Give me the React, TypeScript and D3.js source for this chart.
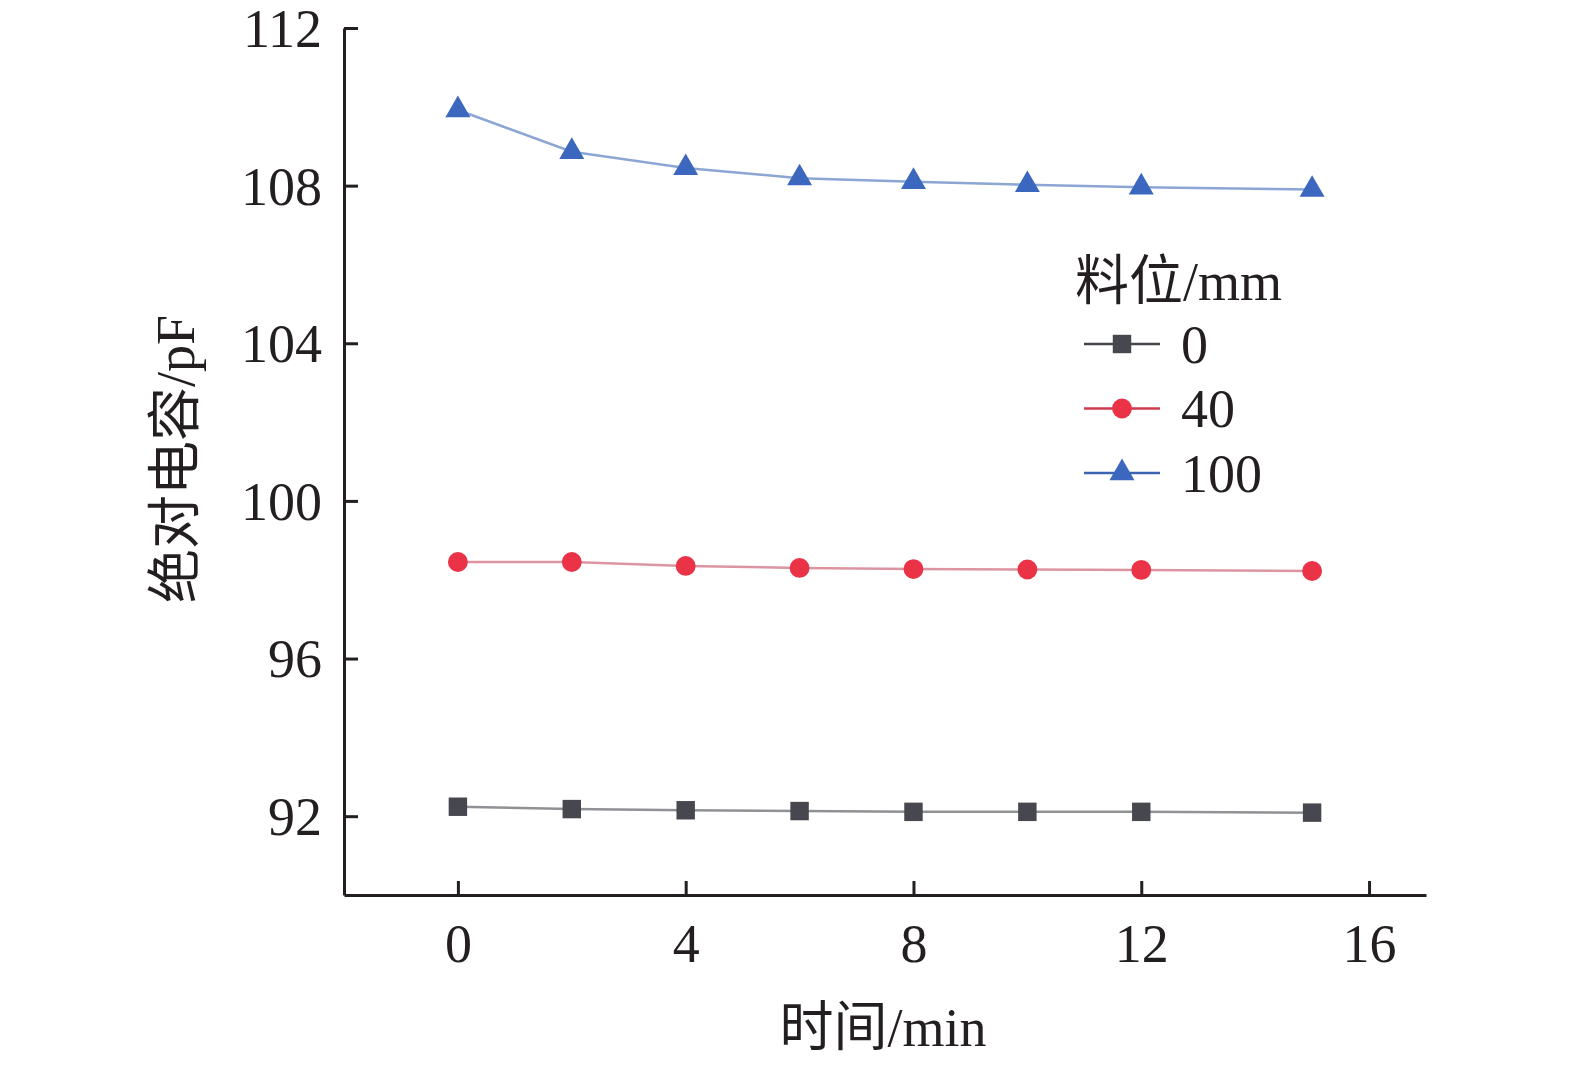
import React, { useEffect, useRef } from 'react';
import * as d3 from 'd3';

// time (min)
const times = [0, 2, 4, 6, 8, 10, 12, 15];
// absolute capacitance (pF) per material level
const level0 = [92.24, 92.18, 92.15, 92.13, 92.11, 92.11, 92.11, 92.09];
const level40 = [98.45, 98.45, 98.35, 98.3, 98.27, 98.26, 98.25, 98.22];
const level100 = [109.92, 108.86, 108.45, 108.19, 108.1, 108.02, 107.96, 107.9];

const xTicks = [0, 4, 8, 12, 16];
const yTicks = [92, 96, 100, 104, 108, 112];

const seriesNames = ['0', '40', '100'];
const legendTitle = '料位/mm';
const xTitle = '时间/min';
const yTitle = '绝对电容/pF';

const FONT = '"Liberation Serif", "Times New Roman", "Noto Sans CJK SC", serif';

const App: React.FC = () => {
  const ref = useRef<SVGSVGElement>(null);

  useEffect(() => {
    if (!ref.current) return;
    const svg = d3.select(ref.current);
    svg.selectAll('*').remove();

    const width = 1575;
    const height = 1065;
    svg.attr('width', width).attr('height', height);

    const left = 344;
    const right = 1426;
    const top = 28;
    const bottom = 895;

    const x = d3.scaleLinear().domain([-2, 17]).range([left, right]);
    const y = d3.scaleLinear().domain([90, 112]).range([bottom, top]);

    const series = [
      { name: seriesNames[0], values: level0, fill: '#46474f', line: '#909195', legendLine: '#45464c', symbol: d3.symbolSquare, size: 340 },
      { name: seriesNames[1], values: level40, fill: '#ea3347', line: '#dc94a2', legendLine: '#cf3a4e', symbol: d3.symbolCircle, size: 310 },
      { name: seriesNames[2], values: level100, fill: '#3b67bf', line: '#8ca6d4', legendLine: '#3d63b0', symbol: d3.symbolTriangle, size: 270 },
    ];

    // Axes
    const xAxis = d3.axisBottom(x).tickValues(xTicks).tickSizeInner(-14).tickSizeOuter(0).tickPadding(30);
    const yAxis = d3.axisLeft(y).tickValues(yTicks).tickSizeInner(-14).tickSizeOuter(0).tickPadding(22);

    const gx = svg.append('g').attr('transform', `translate(0,${bottom})`).call(xAxis);
    const gy = svg.append('g').attr('transform', `translate(${left},0)`).call(yAxis);

    [gx, gy].forEach((g) => {
      g.select('.domain').attr('stroke', '#231f20').attr('stroke-width', 3);
      g.selectAll('.tick line').attr('stroke', '#231f20').attr('stroke-width', 3);
      g.selectAll('.tick text')
        .attr('fill', '#231f20')
        .style('font-family', FONT)
        .style('font-size', '54px');
    });
    gx.selectAll('.tick text').attr('dy', '0.68em');
    gy.selectAll('.tick text').attr('dy', '0.34em');

    // Axis titles
    svg.append('text')
      .attr('x', 883)
      .attr('y', 1046)
      .attr('text-anchor', 'middle')
      .attr('fill', '#231f20')
      .style('font-family', FONT)
      .style('font-size', '54px')
      .text(xTitle);

    svg.append('text')
      .attr('transform', `translate(194,459) rotate(-90)`)
      .attr('text-anchor', 'middle')
      .attr('fill', '#231f20')
      .style('font-family', FONT)
      .style('font-size', '54px')
      .text(yTitle);

    // Lines and markers
    const line = d3.line<number>()
      .x((_, i) => x(times[i]))
      .y((d) => y(d));

    series.forEach((s) => {
      svg.append('path')
        .datum(s.values)
        .attr('fill', 'none')
        .attr('stroke', s.line)
        .attr('stroke-width', 2.5)
        .attr('d', line);

      svg.append('g')
        .selectAll('path')
        .data(s.values)
        .join('path')
        .attr('transform', (d, i) => `translate(${x(times[i])},${y(d)})`)
        .attr('d', d3.symbol().type(s.symbol).size(s.size)())
        .attr('fill', s.fill);
    });

    // Legend
    const legend = svg.append('g');
    legend.append('text')
      .attr('x', 1075)
      .attr('y', 300)
      .attr('fill', '#231f20')
      .style('font-family', FONT)
      .style('font-size', '54px')
      .text(legendTitle);

    series.forEach((s, i) => {
      const ly = 344 + i * 64.5;
      legend.append('line')
        .attr('x1', 1084)
        .attr('x2', 1160)
        .attr('y1', ly)
        .attr('y2', ly)
        .attr('stroke', s.legendLine)
        .attr('stroke-width', 2.5);
      legend.append('path')
        .attr('transform', `translate(1122,${ly})`)
        .attr('d', d3.symbol().type(s.symbol).size(s.size)())
        .attr('fill', s.fill);
      legend.append('text')
        .attr('x', 1181)
        .attr('y', ly)
        .attr('dy', '0.35em')
        .attr('fill', '#231f20')
        .style('font-family', FONT)
        .style('font-size', '54px')
        .text(s.name);
    });
  }, []);

  return (
    <div style={{ position: 'absolute', left: 0, top: 0 }}>
      <svg ref={ref} style={{ display: 'block', background: '#fff' }}></svg>
    </div>
  );
};

export default App;
